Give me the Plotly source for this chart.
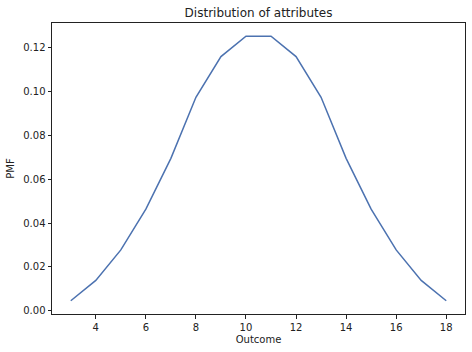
import plotly.graph_objects as go

outcomes = [3, 4, 5, 6, 7, 8, 9, 10, 11, 12, 13, 14, 15, 16, 17, 18]
pmf = [0.00463, 0.01389, 0.02778, 0.04630, 0.06944, 0.09722, 0.11574, 0.12500,
       0.12500, 0.11574, 0.09722, 0.06944, 0.04630, 0.02778, 0.01389, 0.00463]
x_ticks = [4, 6, 8, 10, 12, 14, 16, 18]
y_ticks = [0.00, 0.02, 0.04, 0.06, 0.08, 0.10, 0.12]

fig = go.Figure(go.Scatter(x=outcomes, y=pmf, mode="lines",
                           line=dict(color="#4c72b0", width=1.5)))

axis_common = dict(showgrid=False, zeroline=False, showline=True, linecolor="#222",
                   linewidth=1, mirror=True, ticks="outside", ticklen=3.5,
                   tickwidth=1, tickcolor="#222",
                   tickfont=dict(family="DejaVu Sans", size=10, color="#222"))

fig.update_layout(
    width=472, height=352,
    margin=dict(l=52, r=7, t=23, b=38),
    paper_bgcolor="white", plot_bgcolor="white",
    showlegend=False,
    title=dict(text="Distribution of attributes", x=0.5, xanchor="center",
               xref="paper", y=1 - 13 / 352, yanchor="middle",
               font=dict(family="DejaVu Sans", size=12, color="#222")),
    xaxis=dict(range=[2.25, 18.75], tickvals=x_ticks,
               title=dict(text="Outcome", standoff=4,
                          font=dict(family="DejaVu Sans", size=10, color="#222")),
               **axis_common),
    yaxis=dict(range=[-0.00139, 0.13102], tickvals=y_ticks, tickformat=".2f",
               title=dict(text="PMF", standoff=6,
                          font=dict(family="DejaVu Sans", size=10, color="#222")),
               **axis_common),
)

fig.write_html("out.html")
